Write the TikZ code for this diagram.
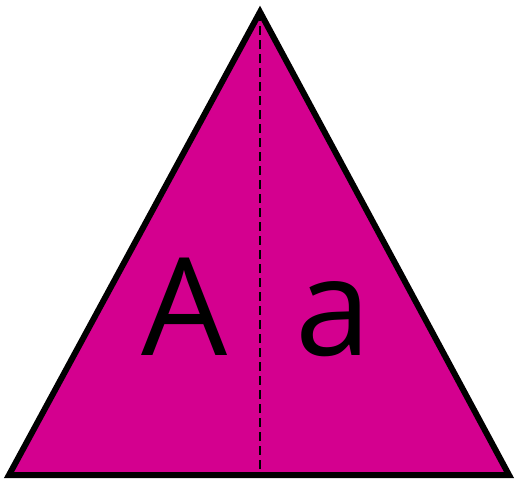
\documentclass[tikz,border=0pt]{standalone}
\usepackage{fontspec}
\setmainfont{Open Sans}
\definecolor{mag}{RGB}{212,0,143}
\begin{document}
\begin{tikzpicture}[x=1pt,y=-1pt,
  tri/.style={fill=mag,draw=black,line width=6pt,line join=miter},
  fold/.style={draw=black,line width=2.2pt,dash pattern=on 9pt off 5pt},
  letter/.style={font=\fontsize{136}{136}\selectfont,text=black,anchor=base,inner sep=0pt}]
\useasboundingbox (0,0) rectangle (515,485);
\coordinate (top) at (260,12);
\coordinate (bl) at (9,475);
\coordinate (br) at (509,475);
\coordinate (bm) at (260,475);
\draw[tri] (top) -- (bl) -- (br) -- cycle;
\draw[fold] (top) -- (bm);
\node[letter] (A) at (185,355) {A};
\node[letter] (a) at (333,355) {a};
\end{tikzpicture}
\end{document}
